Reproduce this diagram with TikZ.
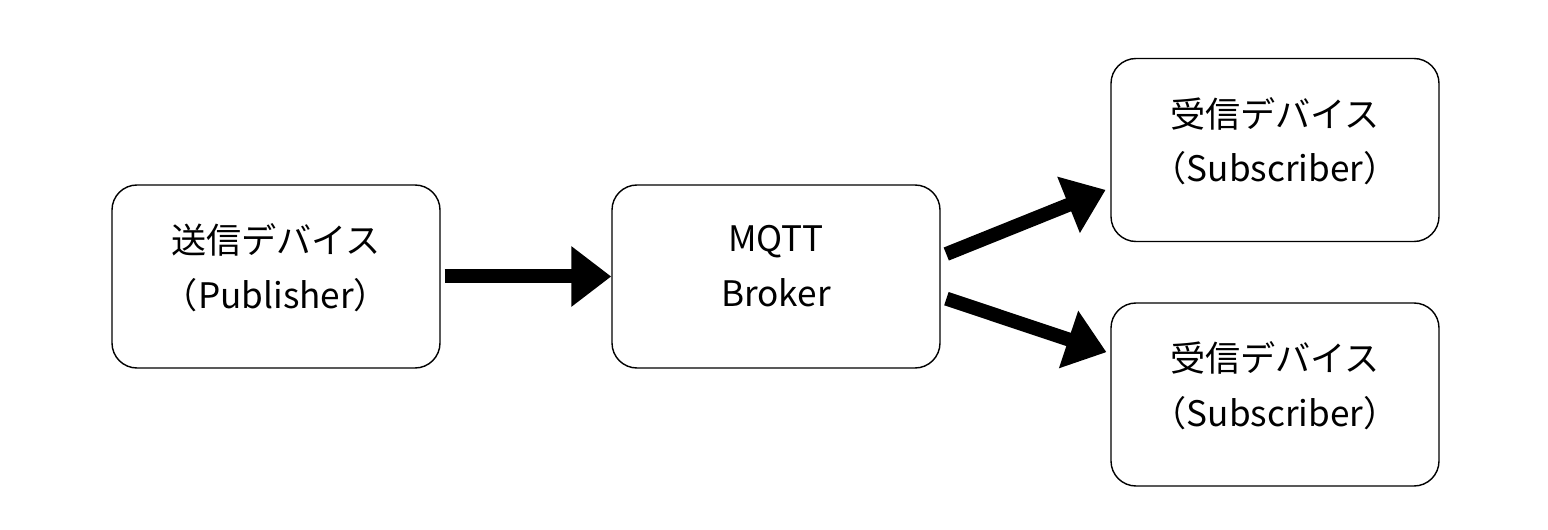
\documentclass[tikz,border=0pt]{standalone}
\usepackage{fontspec}
\setmainfont{Noto Sans CJK JP}
\usetikzlibrary{arrows.meta}

\begin{document}
\begin{tikzpicture}[>={Triangle[length=0.8cm,width=1.16cm]},font=\fontsize{20}{31}\selectfont]
    \tikzset{box/.style={
      draw, line width=0.8pt, rounded corners=0.5cm, minimum width=6.56cm, minimum height=3.66cm,
      text depth=0.42cm, align=center
    }}
    \tikzset{fat/.style={->, line width=0.28cm}}
    \useasboundingbox (0,0) rectangle (30.96,-10.6);
    % Left column
    \node[box] (pub)    at (5.52,-5.53)  {送信デバイス\\（Publisher）};
    % Middle column
    \node[box] (broker) at (15.52,-5.53) {MQTT\\Broker};
    % Right column
    \node[box] (sub1)   at (25.5,-3.0)   {受信デバイス\\（Subscriber）};
    \node[box] (sub2)   at (25.5,-7.89)  {受信デバイス\\（Subscriber）};

    % Arrows
    \draw[fat, shorten <=0.08cm] (pub) -- (broker);
    \draw[fat, shorten <=0.12cm, shorten >=0.1cm] (broker.7)  -- (sub1.193);
    \draw[fat, shorten <=0.12cm, shorten >=0.08cm] (broker.-7) -- (sub2.166);

  \end{tikzpicture}
\end{document}
